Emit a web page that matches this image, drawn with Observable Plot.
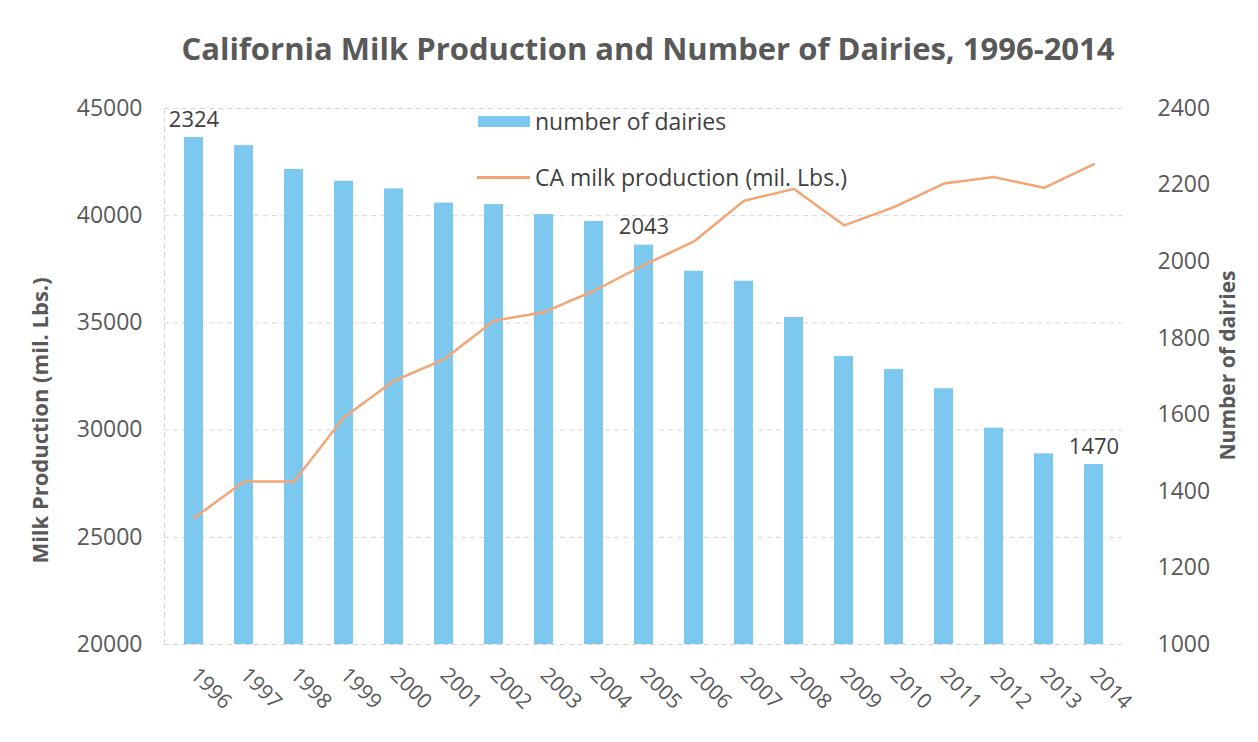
<!DOCTYPE html>
<html><head><meta charset="utf-8">
<script src="https://cdn.jsdelivr.net/npm/d3@7"></script>
<script src="https://cdn.jsdelivr.net/npm/@observablehq/plot@0.6"></script>
<style>
body{margin:0;background:#fff;font-family:"Open Sans",sans-serif;}
#wrap{position:relative;width:1258px;height:742px;overflow:hidden;}
#title{height:90px;padding-top:27px;line-height:42px;box-sizing:border-box;text-align:center;font-size:31px;font-weight:bold;color:#595959;padding-left:38px;white-space:nowrap;}
.legend{position:absolute;font-size:23px;color:#404040;display:flex;align-items:center;height:30px;white-space:nowrap;}
</style></head><body>
<div id="wrap">
<div id="title">California Milk Production and Number of Dairies, 1996-2014</div>
<div id="chart"></div>
<div class="legend" style="left:478px;top:106px;"><span style="display:inline-block;width:52px;height:11px;background:#7cc8ef;margin-right:5px"></span>number of dairies</div>
<div class="legend" style="left:477px;top:162px;"><span style="display:inline-block;width:53px;height:3px;background:#f3a575;margin-right:5px"></span>CA milk production (mil. Lbs.)</div>
</div>
<script>
const years = [1996,1997,1998,1999,2000,2001,2002,2003,2004,2005,2006,2007,2008,2009,2010,2011,2012,2013,2014];
const dairies = [2324,2303,2241,2210,2190,2153,2149,2123,2105,2043,1975,1949,1854,1752,1718,1668,1565,1498,1470];
const milk = [25900,27600,27600,30600,32300,33300,35100,35500,36500,37700,38800,40700,41250,39550,40400,41500,41800,41300,42400];
const milkTicks = [20000,25000,30000,35000,40000,45000];
const dairyTicks = [1000,1200,1400,1600,1800,2000,2200,2400];
const labeledYears = [1996,2005,2014];

const toMilk = d3.scaleLinear().domain([1000,2400]).range([20000,45000]);
const rows = years.map((y,i)=>({year:String(y), dairies:dairies[i], milk:milk[i]}));

const chart = Plot.plot({
  width:1258, height:652, marginTop:18, marginBottom:98, marginLeft:164, marginRight:136,
  style:{fontFamily:"Open Sans", fontSize:"22px", color:"#595959", background:"transparent", overflow:"visible"},
  x:{type:"band", domain:years.map(String), paddingInner:0.62, paddingOuter:0.31, label:null},
  y:{domain:[20000,45000], label:null},
  marks:[
    Plot.ruleY(milkTicks,{stroke:"#d6d6d6", strokeDasharray:"5,4"}),
    Plot.frame({anchor:"left", stroke:"#d6d6d6", strokeDasharray:"5,4"}),
    Plot.barY(rows,{x:"year", y1:()=>20000, y2:d=>toMilk(d.dairies), fill:"#7cc8ef"}),
    Plot.lineY(rows,{x:"year", y:"milk", stroke:"#f3a575", strokeWidth:2.5}),
    Plot.text(rows.filter(d=>labeledYears.includes(+d.year)),{x:"year", y:d=>toMilk(d.dairies), text:d=>String(d.dairies), dy:-18, fill:"#404040", fontSize:22}),
    Plot.axisX({tickRotate:45, tickSize:0, tickPadding:27, fontSize:21, label:null}),
    Plot.axisY(milkTicks,{anchor:"left", tickSize:0, tickPadding:22, fontSize:23, tickFormat:d=>String(d), label:null}),
    Plot.axisY(dairyTicks.map(toMilk),{anchor:"right", tickSize:0, tickPadding:35, fontSize:23, tickFormat:d=>String(Math.round(toMilk.invert(d))), label:null}),
    Plot.text(["Milk Production (mil. Lbs.)"],{frameAnchor:"left", textAnchor:"middle", text:d=>d, rotate:-90, dx:-124, dy:44, fontWeight:"bold", fontSize:22, fill:"#595959"}),
    Plot.text(["Number of dairies"],{frameAnchor:"right", textAnchor:"middle", text:d=>d, rotate:-90, dx:106, dy:-11, fontWeight:"bold", fontSize:21, fill:"#595959"})
  ]
});
document.getElementById("chart").appendChild(chart);
</script>
</body></html>
